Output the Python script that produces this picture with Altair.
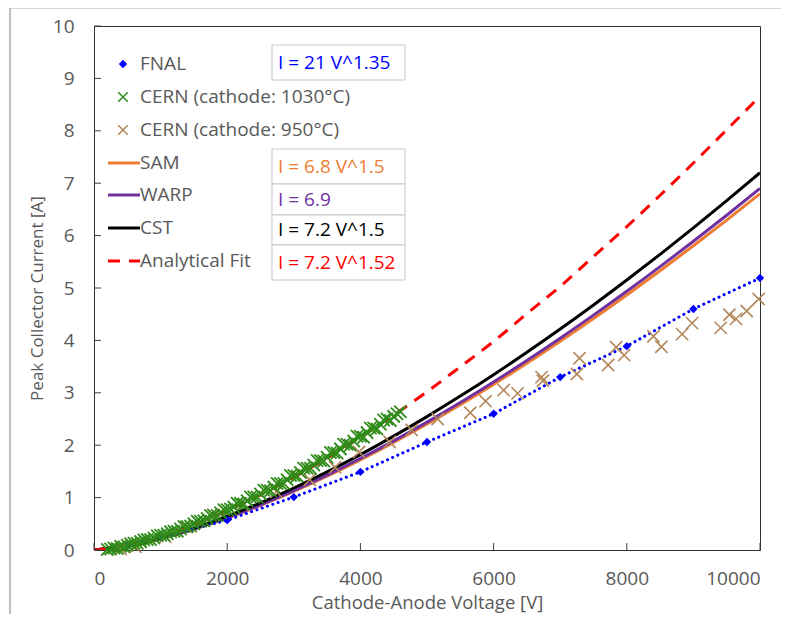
import altair as alt
import pandas as pd

# ---------------- data ----------------
FNAL_V = [500, 1000, 2000, 3000, 4000, 5000, 6000, 7000, 8000, 9000, 10000]
FNAL_I = [0.09, 0.24, 0.57, 1.01, 1.49, 2.06, 2.60, 3.30, 3.89, 4.60, 5.19]

CERN1030_V = [200, 250, 300, 350, 400, 450, 500, 550, 600, 650, 700, 750, 800, 850, 900, 950,
              1000, 1050, 1100, 1150, 1200, 1250, 1300, 1350, 1400, 1450, 1500, 1550, 1600, 1650,
              1700, 1750, 1800, 1850, 1900, 1950, 2000, 2050, 2100, 2150, 2200, 2250, 2300, 2350,
              2400, 2450, 2500, 2550, 2600, 2650, 2700, 2750, 2800, 2850, 2900, 2950, 3000, 3050,
              3100, 3150, 3200, 3250, 3300, 3350, 3400, 3450, 3500, 3550, 3600, 3650, 3700, 3750,
              3800, 3850, 3900, 3950, 4000, 4050, 4100, 4150, 4200, 4250, 4300, 4350, 4400, 4450,
              4500, 4550, 4600]
CERN1030_I = [0.01, 0.02, 0.04, 0.03, 0.07, 0.06, 0.09, 0.12, 0.13, 0.13, 0.16, 0.19, 0.20, 0.20, 0.23, 0.27,
              0.28, 0.28, 0.31, 0.35, 0.36, 0.36, 0.40, 0.45, 0.45, 0.46, 0.50, 0.55, 0.55, 0.56,
              0.60, 0.66, 0.66, 0.66, 0.71, 0.77, 0.77, 0.78, 0.82, 0.89, 0.89, 0.88, 0.94, 1.01,
              1.01, 1.01, 1.07, 1.14, 1.14, 1.13, 1.20, 1.27, 1.27, 1.27, 1.34, 1.42, 1.42, 1.41,
              1.48, 1.56, 1.56, 1.56, 1.62, 1.71, 1.71, 1.70, 1.77, 1.86, 1.86, 1.85, 1.93, 2.02,
              2.02, 2.00, 2.08, 2.17, 2.17, 2.15, 2.24, 2.33, 2.33, 2.31, 2.40, 2.48, 2.50, 2.47,
              2.55, 2.60, 2.64]

CERN950_V = [400, 620, 1070, 1390, 1790, 2240, 2740, 3240, 3620, 3980, 4440, 4770, 5160, 5650,
             5880, 6150, 6360, 6720, 6740, 7250, 7290, 7720, 7840, 7960, 8400, 8520, 8830, 8980,
             9410, 9540, 9640, 9800, 9980]
CERN950_I = [0.02, 0.06, 0.25, 0.44, 0.67, 0.86, 1.11, 1.34, 1.58, 1.87, 2.06, 2.29, 2.50, 2.62,
             2.84, 3.05, 2.99, 3.30, 3.23, 3.36, 3.66, 3.53, 3.87, 3.72, 4.08, 3.88, 4.12, 4.33,
             4.24, 4.49, 4.41, 4.56, 4.79]

CURVE_V = [0, 500, 1000, 1500, 2000, 2500, 3000, 3500, 4000, 4500, 5000,
           5500, 6000, 6500, 7000, 7500, 8000, 8500, 9000, 9500, 10000]
SAM_I = [0, 0.076, 0.215, 0.395, 0.608, 0.85, 1.117, 1.408, 1.72, 2.053, 2.404,
         2.774, 3.16, 3.564, 3.983, 4.417, 4.866, 5.329, 5.806, 6.296, 6.8]
WARP_I = [0, 0.077, 0.218, 0.401, 0.617, 0.863, 1.134, 1.429, 1.746, 2.083, 2.44,
          2.814, 3.207, 3.616, 4.041, 4.482, 4.937, 5.407, 5.891, 6.389, 6.9]
CST_I = [0, 0.08, 0.228, 0.418, 0.644, 0.9, 1.183, 1.491, 1.821, 2.173, 2.546,
         2.937, 3.346, 3.773, 4.217, 4.677, 5.152, 5.642, 6.147, 6.667, 7.2]
FIT_I = [0, 0.091, 0.261, 0.485, 0.75, 1.053, 1.39, 1.756, 2.15, 2.575, 3.02,
         3.496, 3.98, 4.51, 5.03, 5.6, 6.17, 6.77, 7.386, 8.02, 8.66]

X_TICKS = [0, 2000, 4000, 6000, 8000, 10000]
Y_TICKS = [0, 1, 2, 3, 4, 5, 6, 7, 8, 9, 10]

LEGEND_LABELS = ["FNAL", "CERN (cathode: 1030°C)", "CERN (cathode: 950°C)",
                 "SAM", "WARP", "CST", "Analytical Fit"]
FORMULA_TEXT = ["I = 21 V^1.35", "I = 6.8 V^1.5", "I = 6.9", "I = 7.2 V^1.5", "I = 7.2 V^1.52"]

# ---------------- styles ----------------
BLUE = "#0000FF"
GREEN = "#2E8B18"
TAN = "#B4875A"
ORANGE = "#ED7D31"
PURPLE = "#7030A0"
BLACK = "#000000"
RED = "#FF0000"
GREY_TXT = "#595959"
FONT = "Open Sans"
XPATH = "M-1,-1L1,1M-1,1L1,-1"

W, H = 666, 524

xs = alt.Scale(domain=[0, 10000], nice=False)
ys = alt.Scale(domain=[0, 10], nice=False)


def X(field="V"):
    return alt.X(f"{field}:Q", scale=xs,
                 axis=alt.Axis(values=X_TICKS, format="d", title="Cathode-Anode Voltage [V]",
                               titleX=W / 2, titleY=52, titleBaseline="middle",
                               titleAlign="center", titleFontSize=18.5))


def Y(field="I"):
    return alt.Y(f"{field}:Q", scale=ys,
                 axis=alt.Axis(values=Y_TICKS, title="Peak Collector Current [A]",
                               titleX=-57, titleY=272, titleAngle=-90,
                               titleBaseline="middle", titleAlign="center", titleFontSize=17))


def curve_df(vals):
    return pd.DataFrame({"V": CURVE_V, "I": vals})


layers = []

# simulation / fit curves
for vals, col, dash in [(SAM_I, ORANGE, None), (WARP_I, PURPLE, None),
                        (CST_I, BLACK, None), (FIT_I, RED, [12, 9])]:
    kw = dict(color=col, strokeWidth=3, interpolate="monotone", clip=True)
    if dash:
        kw["strokeDash"] = dash
    layers.append(alt.Chart(curve_df(vals)).mark_line(**kw).encode(x=X(), y=Y()))

fnal = pd.DataFrame({"V": FNAL_V, "I": FNAL_I})
layers.append(alt.Chart(fnal).mark_line(color=BLUE, strokeWidth=3, strokeDash=[0.1, 5.5],
                                        strokeCap="round").encode(x=X(), y=Y()))
layers.append(alt.Chart(fnal).mark_point(shape="diamond", filled=True, color=BLUE, size=70,
                                         opacity=1).encode(x=X(), y=Y()))

tan = pd.DataFrame({"V": CERN950_V, "I": CERN950_I})
layers.append(alt.Chart(tan).mark_point(shape=XPATH, filled=False, color=TAN, size=150,
                                        strokeWidth=1.6, opacity=1).encode(x=X(), y=Y()))
green = pd.DataFrame({"V": CERN1030_V, "I": CERN1030_I})
layers.append(alt.Chart(green).mark_point(shape=XPATH, filled=False, color=GREEN, size=150,
                                          strokeWidth=1.8, opacity=1).encode(x=X(), y=Y()))

# inward ticks
xt = pd.DataFrame({"V": X_TICKS})
layers.append(alt.Chart(xt).mark_rule(color="#404040", strokeWidth=1).encode(
    x=X(), y=alt.value(H), y2=alt.value(H - 7)))
yt = pd.DataFrame({"I": Y_TICKS})
layers.append(alt.Chart(yt).mark_rule(color="#404040", strokeWidth=1).encode(
    y=Y(), x=alt.value(0), x2=alt.value(7)))

one = alt.Data(values=[{}])

# outer chart frame (partially visible)
layers.append(alt.Chart(one).mark_rule(color="#808080", strokeWidth=1).encode(
    x=alt.value(-84), y=alt.value(-18), y2=alt.value(H + 80)))
layers.append(alt.Chart(one).mark_rule(color="#b0b0b0", strokeWidth=1).encode(
    x=alt.value(-84), x2=alt.value(W + 40), y=alt.value(-18)))

# legend
rows = [38, 71, 104, 137, 169, 202, 235]
layers.append(alt.Chart(one).mark_point(shape="diamond", filled=True, color=BLUE, size=70,
                                        opacity=1).encode(x=alt.value(29), y=alt.value(rows[0])))
layers.append(alt.Chart(one).mark_point(shape=XPATH, filled=False, color=GREEN, size=90,
                                        strokeWidth=1.5, opacity=1).encode(x=alt.value(29), y=alt.value(rows[1])))
layers.append(alt.Chart(one).mark_point(shape=XPATH, filled=False, color=TAN, size=90,
                                        strokeWidth=1.5, opacity=1).encode(x=alt.value(29), y=alt.value(rows[2])))
for r, col, dash in [(rows[3], ORANGE, None), (rows[4], PURPLE, None),
                     (rows[5], BLACK, None), (rows[6], RED, [12, 9])]:
    kw = dict(color=col, strokeWidth=3)
    if dash:
        kw["strokeDash"] = dash
    layers.append(alt.Chart(one).mark_rule(**kw).encode(
        x=alt.value(14), x2=alt.value(46), y=alt.value(r)))
for r, lab in zip(rows, LEGEND_LABELS):
    layers.append(alt.Chart(one).mark_text(text=lab, align="left", baseline="middle",
                                           font=FONT, fontSize=19, color=GREY_TXT).encode(
        x=alt.value(46), y=alt.value(r)))

# formula boxes
boxes = [(19, 54), (123, 158), (158, 189), (189, 219), (219, 254)]
bcols = [BLUE, ORANGE, PURPLE, BLACK, RED]
for (y0, y1), txt, col in zip(boxes, FORMULA_TEXT, bcols):
    layers.append(alt.Chart(one).mark_rect(fill="white", stroke="#c8c8c8", strokeWidth=1).encode(
        x=alt.value(178), x2=alt.value(311), y=alt.value(y0), y2=alt.value(y1)))
    layers.append(alt.Chart(one).mark_text(text=txt, align="left", baseline="middle",
                                           font=FONT, fontSize=19, color=col).encode(
        x=alt.value(184), y=alt.value((y0 + y1) / 2)))

chart = alt.layer(*layers).properties(
    width=W, height=H,
    autosize=alt.AutoSizeParams(type="none"),
    padding={"left": 86, "top": 18, "right": 21, "bottom": 64},
    background="white",
).configure_view(stroke="#303030", strokeWidth=1).configure_axis(
    domain=False, ticks=False, tickSize=0, grid=False,
    labelFont=FONT, labelFontSize=19, labelColor=GREY_TXT,
    titleFont=FONT, titleColor=GREY_TXT, titleFontWeight="normal",
).configure_axisX(labelPadding=19).configure_axisY(labelPadding=20)

chart.save("out.html", embed_options={"renderer": "svg", "actions": False})
